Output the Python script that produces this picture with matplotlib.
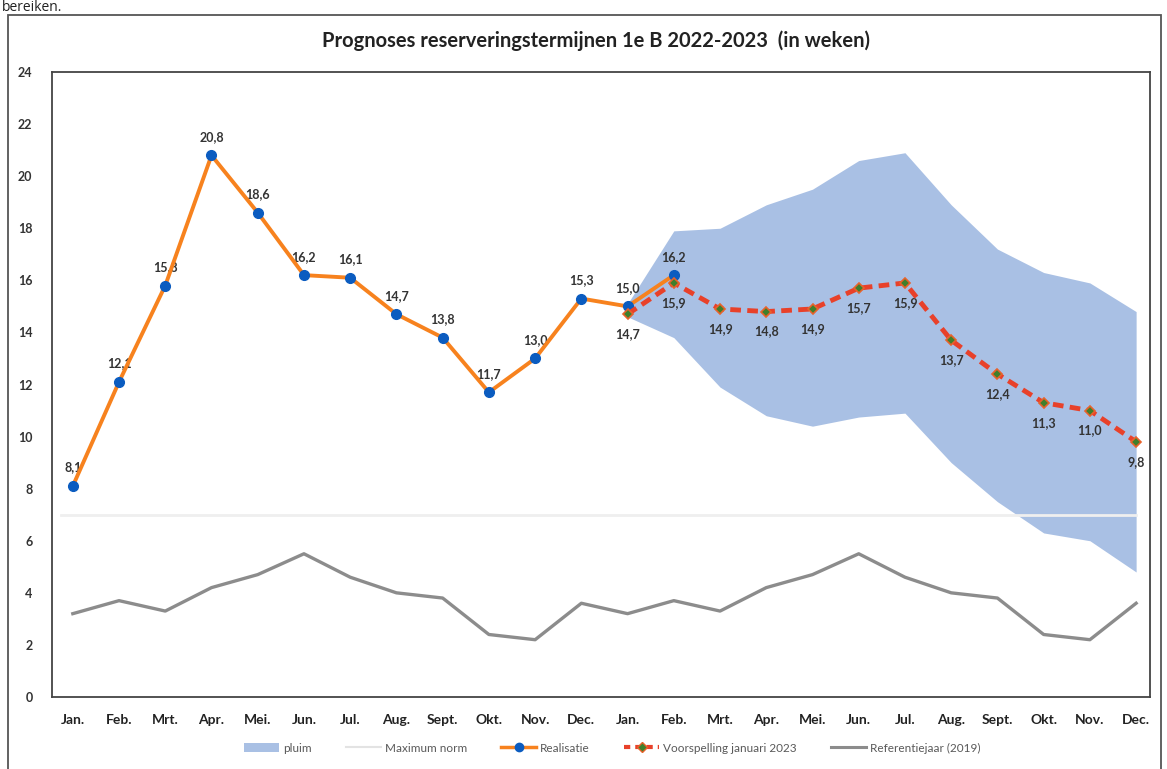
import matplotlib
matplotlib.use("Agg")
import matplotlib.pyplot as plt
from matplotlib.patches import Rectangle, Patch
from matplotlib.lines import Line2D
import numpy as np

# ---- data ----
months = ["Jan.", "Feb.", "Mrt.", "Apr.", "Mei.", "Jun.", "Jul.", "Aug.", "Sept.", "Okt.", "Nov.", "Dec.",
          "Jan.", "Feb.", "Mrt.", "Apr.", "Mei.", "Jun.", "Jul.", "Aug.", "Sept.", "Okt.", "Nov.", "Dec."]
realisatie = [8.1, 12.1, 15.8, 20.8, 18.6, 16.2, 16.1, 14.7, 13.8, 11.7, 13.0, 15.3, 15.0, 16.2]
voorspelling = [14.7, 15.9, 14.9, 14.8, 14.9, 15.7, 15.9, 13.7, 12.4, 11.3, 11.0, 9.8]
pluim_boven = [15.1, 17.9, 18.0, 18.9, 19.5, 20.6, 20.9, 18.9, 17.2, 16.3, 15.9, 14.8]
pluim_onder = [14.6, 13.8, 11.9, 10.8, 10.4, 10.75, 10.9, 9.0, 7.5, 6.3, 6.0, 4.8]
referentie = [3.2, 3.7, 3.3, 4.2, 4.7, 5.5, 4.6, 4.0, 3.8, 2.4, 2.2, 3.6,
              3.2, 3.7, 3.3, 4.2, 4.7, 5.5, 4.6, 4.0, 3.8, 2.4, 2.2, 3.6]
max_norm = 7.0
yticks = [0, 2, 4, 6, 8, 10, 12, 14, 16, 18, 20, 22, 24]
title = "Prognoses reserveringstermijnen 1e B 2022-2023  (in weken)"

def fmt(v):
    return f"{v:.1f}".replace(".", ",")

# ---- figure ----
W, H = 1167, 769
fig = plt.figure(figsize=(W / 100, H / 100), dpi=100)
plt.rcParams['font.family'] = ['Lato', 'DejaVu Sans']

# outer frame and page text fragment
fig.patches.append(Rectangle((8 / W, -0.05), (1161 - 8) / W, 1.05 - 15 / H,
                             transform=fig.transFigure, fill=False,
                             edgecolor="#555555", linewidth=1.3))
fig.text(2 / W, 1 - 11 / H, "bereiken.", fontsize=10, color="#222222",
         va="baseline", ha="left", family="Open Sans")

ax = fig.add_axes([52 / W, 1 - 697 / H, (1150 - 52) / W, (697 - 72) / H])

x_all = np.arange(len(months))
x_real = x_all[:len(realisatie)]
x_fc = x_all[12:12 + len(voorspelling)]

# pluim
ax.fill_between(x_fc, pluim_onder, pluim_boven, color="#a9c0e4", linewidth=0, zorder=1)
# maximum norm
ax.plot([x_all[0] - 0.25, x_all[-1]], [max_norm, max_norm], color="#efefef", linewidth=2, zorder=2)
# referentiejaar
ax.plot(x_all, referentie, color="#8c8c8c", linewidth=2.4, zorder=3)
# realisatie
ax.plot(x_real, realisatie, color="#f7821e", linewidth=2.8, marker="o", markersize=7,
        markerfacecolor="#0b5cc0", markeredgecolor="#0b5cc0", zorder=5)
# voorspelling
ax.plot(x_fc, voorspelling, color="#e8412a", linewidth=3.5, linestyle=(0, (2.2, 1.3)),
        marker="D", markersize=5, markerfacecolor="#3f7f2c", markeredgecolor="#e8622a",
        markeredgewidth=1.2, zorder=6)

lab_kw = dict(fontsize=9, color="#333333", ha="center", fontweight="bold")
for xi, v in zip(x_real, realisatie):
    ax.annotate(fmt(v), (xi, v), xytext=(0, 9), textcoords="offset points", va="bottom", **lab_kw)
for xi, v in zip(x_fc, voorspelling):
    ax.annotate(fmt(v), (xi, v), xytext=(0, -10), textcoords="offset points", va="top", **lab_kw)

ax.set_xlim(-0.45, 23.3)
ax.set_ylim(0, 24)
ax.set_yticks(yticks)
ax.set_yticklabels([str(t) for t in yticks], fontsize=9, fontweight="bold", color="#333333")
ax.set_xticks(x_all)
ax.set_xticklabels(months, fontsize=10, fontweight="bold", color="#222222")
ax.tick_params(axis="both", length=0)
ax.tick_params(axis="y", pad=14)
ax.tick_params(axis="x", pad=12)
for s in ax.spines.values():
    s.set_color("#444444")
    s.set_linewidth(1.3)

fig.text(596 / W, 1 - 41 / H, title, ha="center", va="center", fontsize=14.5,
         fontweight="bold", color="#222222")

handles = [
    Patch(facecolor="#a9c0e4", edgecolor="none"),
    Line2D([], [], color="#e3e3e3", linewidth=1.5),
    Line2D([], [], color="#f7821e", linewidth=2.5, marker="o", markersize=6,
           markerfacecolor="#0b5cc0", markeredgecolor="#0b5cc0"),
    Line2D([], [], color="#e8412a", linewidth=3, linestyle=(0, (1.5, 1.2)), marker="D", markersize=5,
           markerfacecolor="#3f7f2c", markeredgecolor="#e8622a"),
    Line2D([], [], color="#8c8c8c", linewidth=2.2),
]
labels = ["pluim", "Maximum norm", "Realisatie", "Voorspelling januari 2023", "Referentiejaar (2019)"]
leg = fig.legend(handles, labels, loc="center", bbox_to_anchor=(612 / W, 1 - 748 / H), ncol=5,
                 frameon=False, fontsize=8.5, handlelength=3.0, handletextpad=0.3,
                 columnspacing=2.9, labelcolor="#595959")

fig.savefig("out.png", dpi=100)
